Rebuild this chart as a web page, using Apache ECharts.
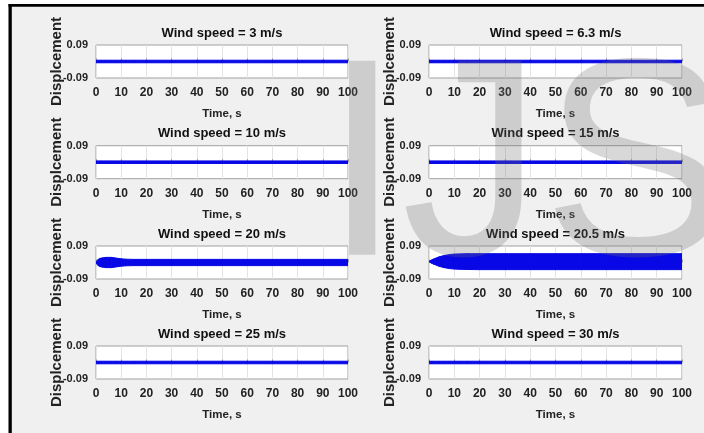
<!DOCTYPE html>
<html><head><meta charset="utf-8">
<script src="https://cdn.jsdelivr.net/npm/echarts@6/dist/echarts.min.js"></script>
<style>html,body{margin:0;padding:0;background:#fff}#c{width:704px;height:433px}</style>
</head><body><div id="c"></div>
<script>
// ---- data ----
const time = [0, 1, 2, 4, 6, 8, 10, 12, 15, 20, 30, 40, 50, 60, 70, 80, 90, 100];
const titles = ['Wind speed = 3 m/s', 'Wind speed = 6.3 m/s', 'Wind speed = 10 m/s', 'Wind speed = 15 m/s',
                'Wind speed = 20 m/s', 'Wind speed = 20.5 m/s', 'Wind speed = 25 m/s', 'Wind speed = 30 m/s'];
const yAxisTitle = 'Displcement';
const xAxisTitle = 'Time, s';
// envelope (upper / lower) of displacement for each wind speed
const up3   = [0.007,0.007,0.007,0.007,0.007,0.007,0.007,0.007,0.007,0.007,0.007,0.007,0.007,0.007,0.007,0.007,0.007,0.007];
const lo3   = [-0.007,-0.007,-0.007,-0.007,-0.007,-0.007,-0.007,-0.007,-0.007,-0.007,-0.007,-0.007,-0.007,-0.007,-0.007,-0.007,-0.007,-0.007];
const up63  = [0.007,0.007,0.007,0.007,0.007,0.007,0.007,0.007,0.007,0.007,0.007,0.007,0.007,0.007,0.007,0.007,0.007,0.007];
const lo63  = [-0.007,-0.007,-0.007,-0.007,-0.007,-0.007,-0.007,-0.007,-0.007,-0.007,-0.007,-0.007,-0.007,-0.007,-0.007,-0.007,-0.007,-0.007];
const up10  = [0.007,0.007,0.007,0.007,0.007,0.007,0.007,0.007,0.007,0.007,0.007,0.007,0.007,0.007,0.007,0.007,0.007,0.007];
const lo10  = [-0.007,-0.007,-0.007,-0.007,-0.007,-0.007,-0.007,-0.007,-0.007,-0.007,-0.007,-0.007,-0.007,-0.007,-0.007,-0.007,-0.007,-0.007];
const up15  = [0.007,0.007,0.007,0.007,0.007,0.007,0.007,0.007,0.007,0.007,0.007,0.007,0.007,0.007,0.007,0.007,0.007,0.007];
const lo15  = [-0.007,-0.007,-0.007,-0.007,-0.007,-0.007,-0.007,-0.007,-0.007,-0.007,-0.007,-0.007,-0.007,-0.007,-0.007,-0.007,-0.007,-0.007];
const up20  = [0.004,0.019,0.024,0.028,0.028,0.024,0.020,0.018,0.017,0.017,0.017,0.017,0.017,0.017,0.017,0.017,0.017,0.017];
const lo20  = [-0.004,-0.019,-0.024,-0.028,-0.028,-0.024,-0.020,-0.018,-0.017,-0.017,-0.017,-0.017,-0.017,-0.017,-0.017,-0.017,-0.017,-0.017];
const up205 = [0.006,0.014,0.020,0.031,0.038,0.043,0.046,0.047,0.048,0.048,0.048,0.048,0.048,0.048,0.048,0.048,0.048,0.048];
const lo205 = [0.004,-0.004,-0.010,-0.021,-0.028,-0.033,-0.036,-0.037,-0.038,-0.039,-0.039,-0.039,-0.039,-0.039,-0.039,-0.039,-0.039,-0.039];
const up25  = [0.007,0.007,0.007,0.007,0.007,0.007,0.007,0.007,0.007,0.007,0.007,0.007,0.007,0.007,0.007,0.007,0.007,0.007];
const lo25  = [-0.007,-0.007,-0.007,-0.007,-0.007,-0.007,-0.007,-0.007,-0.007,-0.007,-0.007,-0.007,-0.007,-0.007,-0.007,-0.007,-0.007,-0.007];
const up30  = [0.007,0.007,0.007,0.007,0.007,0.007,0.007,0.007,0.007,0.007,0.007,0.007,0.007,0.007,0.007,0.007,0.007,0.007];
const lo30  = [-0.007,-0.007,-0.007,-0.007,-0.007,-0.007,-0.007,-0.007,-0.007,-0.007,-0.007,-0.007,-0.007,-0.007,-0.007,-0.007,-0.007,-0.007];

const uppers = [up3, up63, up10, up15, up20, up205, up25, up30];
const lowers = [lo3, lo63, lo10, lo15, lo20, lo205, lo25, lo30];

// ---- layout / style ----
const BLUE = '#0808e6';
const FONT = "'Liberation Sans',Arial,sans-serif";
const colLeft = [96, 429], colWidth = [252, 253];
const rowTop = [45, 145.7, 246, 346], boxH = 33;

// band segment renderer: quad between consecutive envelope samples
function renderBand(params, api) {
  const p0u = api.coord([api.value(0), api.value(1)]);
  const p1u = api.coord([api.value(3), api.value(4)]);
  const p1l = api.coord([api.value(3), api.value(5)]);
  const p0l = api.coord([api.value(0), api.value(2)]);
  return {type: 'polygon', shape: {points: [p0u, p1u, p1l, p0l]},
    style: {fill: BLUE, stroke: BLUE, lineWidth: 1, lineJoin: 'round'}};
}

const grid = [], xAxis = [], yAxis = [], series = [], title = [];
for (let i = 0; i < 8; i++) {
  const c = i % 2, r = Math.floor(i / 2);
  grid.push({left: colLeft[c], top: rowTop[r], width: colWidth[c], height: boxH,
    show: true, backgroundColor: '#ffffff', borderColor: '#a0a0a0', borderWidth: 1});
  title.push({text: titles[i], left: colLeft[c] + colWidth[c] / 2, top: rowTop[r] - 18.5,
    textAlign: 'center', padding: 0,
    textStyle: {fontFamily: FONT, fontWeight: 'bold', fontSize: 13, color: '#111'}});
  xAxis.push({type: 'value', gridIndex: i, min: 0, max: 100, interval: 10,
    name: xAxisTitle, nameLocation: 'middle', nameGap: 30, nameMoveOverlap: false,
    nameTextStyle: {fontFamily: FONT, fontWeight: 'bold', fontSize: 11.5, color: '#222'},
    axisLine: {show: false},
    axisTick: {show: true, inside: true, length: 3, lineStyle: {color: '#999'}},
    splitLine: {show: true, lineStyle: {color: '#e4e4e4', width: 1}},
    axisLabel: {margin: 9, fontFamily: FONT, fontWeight: 'bold', fontSize: 12, color: '#222'}});
  yAxis.push({type: 'value', gridIndex: i, min: -0.09, max: 0.09, interval: 0.09,
    name: yAxisTitle, nameLocation: 'middle', nameRotate: 90, nameGap: 32, nameMoveOverlap: false,
    nameTextStyle: {fontFamily: FONT, fontWeight: 'bold', fontSize: 15, color: '#222'},
    axisLine: {show: false}, axisTick: {show: false}, splitLine: {show: false},
    axisLabel: {margin: 8, fontFamily: FONT, fontWeight: 'bold', fontSize: 11, color: '#222',
      formatter: v => Math.abs(v) < 1e-9 ? '' : v.toFixed(2)}});
  const lo = lowers[i], up = uppers[i];
  const segs = [];
  for (let k = 0; k < time.length - 1; k++) {
    segs.push([time[k], up[k], lo[k], time[k + 1], up[k + 1], lo[k + 1]]);
  }
  series.push({type: 'custom', xAxisIndex: i, yAxisIndex: i, silent: true,
    renderItem: renderBand, encode: {x: [0, 3], y: [1, 2, 4, 5]}, data: segs, clip: true});
}

const chart = echarts.init(document.getElementById('c'), null, {renderer: 'canvas'});
chart.setOption({
  animation: false,
  backgroundColor: '#f0f0f0',
  title, grid, xAxis, yAxis, series,
  graphic: [
    {type: 'rect', shape: {x: 0, y: 0, width: 704, height: 4}, style: {fill: '#fff'}, silent: true},
    {type: 'rect', shape: {x: 0, y: 0, width: 8.5, height: 433}, style: {fill: '#fff'}, silent: true},
    {type: 'rect', shape: {x: 8.5, y: 4, width: 696, height: 2.7}, style: {fill: '#000'}, silent: true},
    {type: 'rect', shape: {x: 8.5, y: 4, width: 3.3, height: 429}, style: {fill: '#000'}, silent: true},
    {type: 'text', x: 323, y: 177, z: 100, silent: true,
      style: {text: 'IJS', font: "282px 'Liberation Sans', Arial, sans-serif",
        fill: 'rgba(110,110,110,0.27)', align: 'left', verticalAlign: 'middle'}}
  ]
});
</script></body></html>
